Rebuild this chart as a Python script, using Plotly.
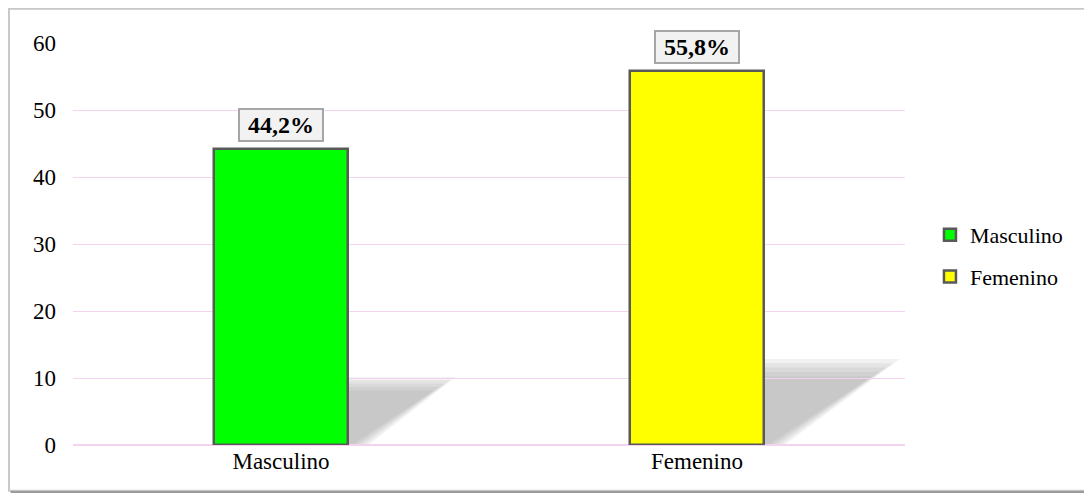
import plotly.graph_objects as go

categories = ['Masculino', 'Femenino']
values = [44.2, 55.8]
labels = ['44,2%', '55,8%']
colors = ['#00ff00', '#ffff00']
y_ticks = [0, 10, 20, 30, 40, 50, 60]

bar_width = 0.32
serif = 'Liberation Serif, Times New Roman, serif'

fig = go.Figure()
for i, (cat, val) in enumerate(zip(categories, values)):
    fig.add_trace(go.Bar(
        x=[cat], y=[val], name=cat, width=bar_width,
        marker=dict(color=colors[i], line=dict(color='#595959', width=2.5)),
        legendgroup=cat,
    ))
    fig.add_annotation(
        x=cat, y=val, text='<b>&nbsp;%s&nbsp;</b>' % labels[i], showarrow=False,
        yanchor='bottom', yshift=7,
        font=dict(family=serif, size=24, color='black'),
        bgcolor='#f2f2f2', bordercolor='#a6a6a6', borderwidth=2, borderpad=2,
    )
    # soft shadow behind each bar, stacked thin layers to fake the blur
    x_right = i + bar_width / 2
    h = val * 0.23
    w = h * 0.0255
    for k in range(5):
        s = 1 - 0.05 * k
        fig.add_shape(
            type='path', layer='below', xref='x', yref='y',
            path='M %f,0 L %f,%f L %f,%f L %f,0 Z' % (
                x_right, x_right, h * s, x_right + w * s, h * s,
                x_right + 0.05 - 0.01 * k),
            fillcolor='rgba(150,150,150,0.13)', line=dict(width=0),
        )

# outer frame
fig.add_shape(type='rect', xref='paper', yref='paper',
              x0=-0.077, x1=1.219, y0=-0.114, y1=1.085,
              line=dict(color='#c8c8c8', width=2), layer='below')
fig.add_shape(type='line', xref='paper', yref='paper',
              x0=-0.075, x1=1.219, y0=-0.117, y1=-0.117,
              line=dict(color='#9a9a9a', width=2), layer='below')

fig.update_layout(
    width=1092, height=498,
    margin=dict(l=65, r=195, t=35, b=61),
    paper_bgcolor='white', plot_bgcolor='white',
    barmode='overlay', bargap=0,
    font=dict(family=serif, size=23, color='black'),
    showlegend=True,
    legend=dict(x=1.03, y=0.47, yanchor='middle', xanchor='left',
                font=dict(family=serif, size=22), tracegroupgap=10,
                itemwidth=30),
    xaxis=dict(showgrid=False, showline=False, ticks='',
               tickfont=dict(family=serif, size=23)),
    yaxis=dict(range=[0, 60], tickvals=y_ticks, showgrid=True,
               gridcolor='#f5d3f0', gridwidth=1, zeroline=True,
               zerolinecolor='#f5d3f0', ticks='', ticklabelstandoff=16,
               tickfont=dict(family=serif, size=23)),
)

fig.write_html('out.html')
